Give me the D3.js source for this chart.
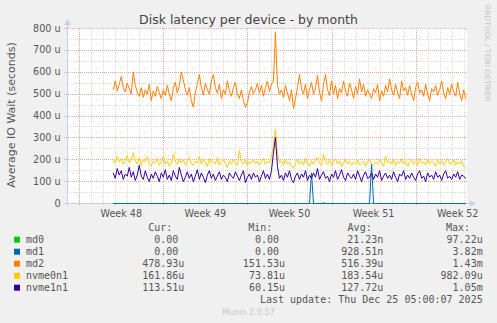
<!DOCTYPE html>
<meta charset="utf-8">
<style>
body { margin: 0; background: #f0f0f0; }
svg { display: block; font-family: "DejaVu Sans", sans-serif; }
.mono { font-family: "DejaVu Sans Mono", monospace; font-size: 10px; fill: #555; }
</style>
<svg width="497" height="323"></svg>
<script src="https://cdn.jsdelivr.net/npm/d3@7/dist/d3.min.js"></script>
<script>

// values in microseconds, one point every 4 hours from Nov 25 20:00
var md0 = [
  0,0,0,0,0,0,0,0,0,0, 0,0,0,0,0,0,0,0,0,0, 0,0,0,0,0,0,0,0,0,0,
  0,0,0,0,0,0,0,0,0,0, 0,0,0,0,0,0,0,0,0,0, 0,0,0,0,0,0,0,0,0,0,
  0,0,0,0,0,0,0,0,0,0, 0,0,0,0,0,0,0,0,0,0, 0,0,0,0,0,0,0,0,0,0,
  0,0,0,0,0,0,0,0,0,0, 0,0,0,0,0,4,0,0,0,0, 0,0,0,0,0,0,0,0,0,0,
  0,0,0,0,0,0,0,0,0,0, 0,0,0,0,0,0,0,0,0,0, 0,0,0,0,0,0,0,0,0,0,
  0,0,0,0,0,0,0,0,0,0, 0,0,0,0,0,0,0,0,0,0, 0,0,0,0,0,0,0
];
var md1 = [
  0,0,0,0,0,0,0,0,0,0, 0,0,0,0,0,0,0,0,0,0, 0,0,0,0,0,0,0,0,0,0,
  0,0,0,0,0,0,0,0,0,0, 0,0,0,0,0,0,0,0,0,0, 0,0,0,0,0,0,0,0,0,0,
  0,0,0,0,0,0,0,0,0,0, 0,0,0,0,0,0,0,0,0,0, 0,0,0,0,0,0,0,0,0,0,
  0,0,0,0,0,0,0,0,0,140, 0,0,0,0,0,0,0,0,0,0, 0,0,0,0,0,0,0,0,0,0,
  0,0,0,0,0,0,0,0,0,181, 0,0,0,0,0,0,0,0,0,0, 0,0,0,0,0,0,0,0,0,0,
  0,0,0,0,0,0,0,0,0,0, 0,0,0,0,0,0,0,0,0,0, 0,0,0,0,0,0,0
];
var md2 = [
  520,560,515,545,580,530,510,550,525,500,
  600,540,510,490,530,485,520,500,545,470,
  515,490,535,505,480,520,495,540,500,470,
  525,555,505,540,600,565,520,495,530,470,
  440,510,545,590,530,495,550,520,500,560,
  590,530,505,545,480,520,500,560,515,490,
  530,555,500,480,520,470,440,460,510,535,
  500,520,550,505,540,490,530,560,510,545,
  560,785,540,500,520,485,540,505,470,520,
  434,480,530,590,525,500,545,480,520,555,
  500,530,585,510,470,545,590,520,495,560,
  500,540,480,525,505,560,515,490,550,520,
  480,535,500,570,510,545,490,520,500,480,
  525,505,545,470,515,490,540,510,570,520,
  495,545,505,480,560,515,530,495,540,500,
  470,530,555,505,520,490,545,500,470,525,
  510,540,495,520,560,505,480,530,500,545,
  510,490,555,500,470,520,480
];
var nvme0n1 = [
  200,185,215,190,205,180,195,220,185,200,
  233,195,180,210,175,200,190,215,180,170,
  195,185,205,175,190,215,180,195,170,185,
  225,190,180,205,185,200,175,195,210,180,
  175,195,185,215,180,200,190,170,205,185,
  195,180,210,175,190,200,185,165,195,180,
  200,185,175,242,190,180,200,175,190,185,
  200,180,195,175,190,205,180,195,185,210,
  270,340,230,185,195,175,200,180,190,170,
  160,185,200,180,195,175,205,185,170,195,
  180,200,210,185,175,225,190,180,200,175,
  190,205,180,195,170,185,200,180,195,175,
  190,180,200,175,185,195,170,190,200,180,
  175,190,180,200,185,170,215,185,195,180,
  200,175,190,185,205,180,195,170,190,200,
  180,195,175,205,185,190,175,200,180,195,
  185,170,200,180,195,175,190,205,180,185,
  200,175,190,180,195,170,162
];
var nvme1n1 = [
  140,115,160,130,150,110,135,125,165,120,
  145,105,130,175,125,110,150,120,100,135,
  115,145,125,100,140,120,155,110,130,105,
  150,125,110,165,130,100,120,145,115,135,
  100,125,155,110,140,120,95,130,150,115,
  135,105,125,145,110,130,120,100,140,125,
  115,145,125,105,130,150,95,120,135,110,
  140,120,130,100,125,150,115,135,110,150,
  230,303,170,115,130,105,140,120,150,110,
  95,125,140,110,135,120,150,105,130,115,
  140,120,160,110,130,145,115,125,100,135,
  120,150,110,130,155,120,105,140,125,115,
  135,110,150,125,100,130,145,115,120,140,
  110,135,120,150,105,125,140,115,130,110,
  145,120,100,135,125,150,110,130,115,140,
  120,105,135,150,115,125,100,140,120,130,
  110,145,120,130,105,135,150,115,125,110,
  135,120,145,110,130,125,113
];

var names = ["md0", "md1", "md2", "nvme0n1", "nvme1n1"];
var colors = ["#00cc00", "#0066b3", "#ff8000", "#ffcc00", "#330099"];
var curVals = ["0.00", "0.00", "478.93u", "161.86u", "113.51u"];
var minVals = ["0.00", "0.00", "151.53u", "73.81u", "60.15u"];
var avgVals = ["21.23n", "928.51n", "516.39u", "183.54u", "127.72u"];
var maxVals = ["97.22u", "3.82m", "1.43m", "982.09u", "1.05m"];

var weekStarts = ["2025-11-23", "2025-11-30", "2025-12-07", "2025-12-14", "2025-12-21"];
var weekLabels = ["Week 48", "Week 49", "Week 50", "Week 51", "Week 52"];
var yTicks = [0, 100, 200, 300, 400, 500, 600, 700, 800];

var svg = d3.select("svg");
var pLeft = 67, pRight = 467, pTop = 28, pBottom = 203;

var tEnd = new Date(2025, 11, 25, 6, 36);
var tStart = new Date(tEnd.getTime() - 33.29 * 864e5);
var x = d3.scaleTime().domain([tStart, tEnd]).range([pLeft, pRight]);
var y = d3.scaleLinear().domain([0, 800]).range([pBottom, pTop]);

var first = new Date(2025, 10, 25, 20, 0);
var times = md2.map(function(d, i) { return d3.timeHour.offset(first, 4 * i); });

function parseDay(s) { var p = s.split("-"); return new Date(+p[0], +p[1] - 1, +p[2]); }

svg.append("rect").attr("x", pLeft).attr("y", pTop).attr("width", pRight - pLeft).attr("height", pBottom - pTop).attr("fill", "#fff");

var px = function(v) { return Math.round(v) + 0.5; };

// minor grid
var g = svg.append("g").attr("stroke-dasharray", "1,1").attr("fill", "none");
d3.timeDay.range(tStart, tEnd).forEach(function(d) {
  var xx = px(x(d));
  g.append("line").attr("x1", xx).attr("x2", xx).attr("y1", pTop).attr("y2", pBottom + 2).attr("stroke", "#d8d8d8");
});
d3.range(50, 800, 100).forEach(function(v) {
  var yy = px(y(v));
  g.append("line").attr("x1", pLeft - 2).attr("x2", pRight).attr("y1", yy).attr("y2", yy).attr("stroke", "#d8d8d8");
});
// major grid
weekStarts.forEach(function(s) {
  var xx = px(x(parseDay(s)));
  g.append("line").attr("x1", xx).attr("x2", xx).attr("y1", pTop).attr("y2", pBottom + 3).attr("stroke", "#e6a6a6");
});
yTicks.forEach(function(v) {
  var yy = px(y(v));
  g.append("line").attr("x1", pLeft - 3).attr("x2", pRight).attr("y1", yy).attr("y2", yy).attr("stroke", "#e6a6a6");
});

// y labels
svg.append("g").selectAll("text").data(yTicks).enter().append("text")
  .attr("x", 60.5).attr("y", function(d) { return y(d) + 3.5; })
  .attr("text-anchor", "end").attr("font-size", "9.6px").attr("fill", "#555")
  .text(function(d) { return d === 0 ? "0" : d + " u"; });

// x labels
svg.append("g").selectAll("text").data(weekStarts).enter().append("text")
  .attr("x", function(d) { return x(d3.timeHour.offset(parseDay(d), 84)); })
  .attr("y", 216.5)
  .attr("text-anchor", "middle").attr("font-size", "9.6px").attr("fill", "#555")
  .text(function(d, i) { return weekLabels[i]; });

// series
var series = [md0, md1, md2, nvme0n1, nvme1n1];
var line = d3.line().x(function(d, i) { return x(times[i]); }).y(function(d) { return y(d); });
svg.append("defs").append("clipPath").attr("id", "clip")
  .append("rect").attr("x", pLeft).attr("y", pTop - 5).attr("width", pRight - pLeft).attr("height", pBottom - pTop + 6);

// axes with arrows
var axc = "#c4ccf0";
svg.append("line").attr("x1", pLeft + 0.5).attr("x2", pLeft + 0.5).attr("y1", pBottom + 3).attr("y2", pTop - 5).attr("stroke", axc);
svg.append("path").attr("d", "M" + (pLeft - 2.5) + "," + (pTop - 3) + "L" + (pLeft + 3.5) + "," + (pTop - 3) + "L" + (pLeft + 0.5) + "," + (pTop - 9) + "Z").attr("fill", axc);
svg.append("line").attr("x1", pLeft - 3).attr("x2", pRight + 5).attr("y1", pBottom + 0.5).attr("y2", pBottom + 0.5).attr("stroke", axc);
svg.append("path").attr("d", "M" + (pRight + 3) + "," + (pBottom - 2.5) + "L" + (pRight + 3) + "," + (pBottom + 3.5) + "L" + (pRight + 9) + "," + (pBottom + 0.5) + "Z").attr("fill", axc);

var lines = svg.append("g").attr("clip-path", "url(#clip)")
  .append("g").attr("transform", "translate(0,0.5)");
series.forEach(function(s, k) {
  lines.append("path").datum(s).attr("d", line).attr("fill", "none")
    .attr("stroke", colors[k]).attr("stroke-width", 1);
});

// title
svg.append("text").attr("x", 248.5).attr("y", 24).attr("text-anchor", "middle")
  .attr("font-size", "12.5px").attr("fill", "#444").text("Disk latency per device - by month");

svg.append("text").attr("transform", "translate(14.7,115) rotate(-90)").attr("text-anchor", "middle")
  .attr("font-size", "11px").attr("fill", "#555").text("Average IO Wait (seconds)");

svg.append("text").attr("transform", "translate(485,5) rotate(90)")
  .attr("font-size", "7.5px").attr("fill", "#c4c4c4").text("RRDTOOL / TOBI OETIKER");

// legend
var heads = [["Cur:", 172.3], ["Min:", 272.3], ["Avg:", 371.7], ["Max:", 470]];
heads.forEach(function(h) {
  svg.append("text").attr("class", "mono").attr("x", h[1]).attr("y", 231.3).attr("text-anchor", "end").text(h[0]);
});
var cols = [[curVals, 184.3], [minVals, 285], [avgVals, 383.3], [maxVals, 482.7]];
names.forEach(function(n, i) {
  var cy = 239.7 + 12 * i;
  svg.append("rect").attr("x", 14).attr("y", cy - 3).attr("width", 6).attr("height", 6).attr("fill", colors[i]);
  svg.append("text").attr("class", "mono").attr("x", 26).attr("y", cy + 3.6).text(n);
  cols.forEach(function(c) {
    var v = c[0][i];
    if (/[0-9]$/.test(v)) v += "\u00a0";
    svg.append("text").attr("class", "mono").attr("x", c[1]).attr("y", cy + 3.6).attr("text-anchor", "end").text(v);
  });
});
svg.append("text").attr("class", "mono").attr("x", 482.7).attr("y", 303).attr("text-anchor", "end")
  .text("Last update: Thu Dec 25 05:00:07 2025");

svg.append("text").attr("x", 248.5).attr("y", 315).attr("text-anchor", "middle")
  .attr("font-size", "8px").attr("fill", "#c8c8c8").text("Munin 2.0.57");

</script>
